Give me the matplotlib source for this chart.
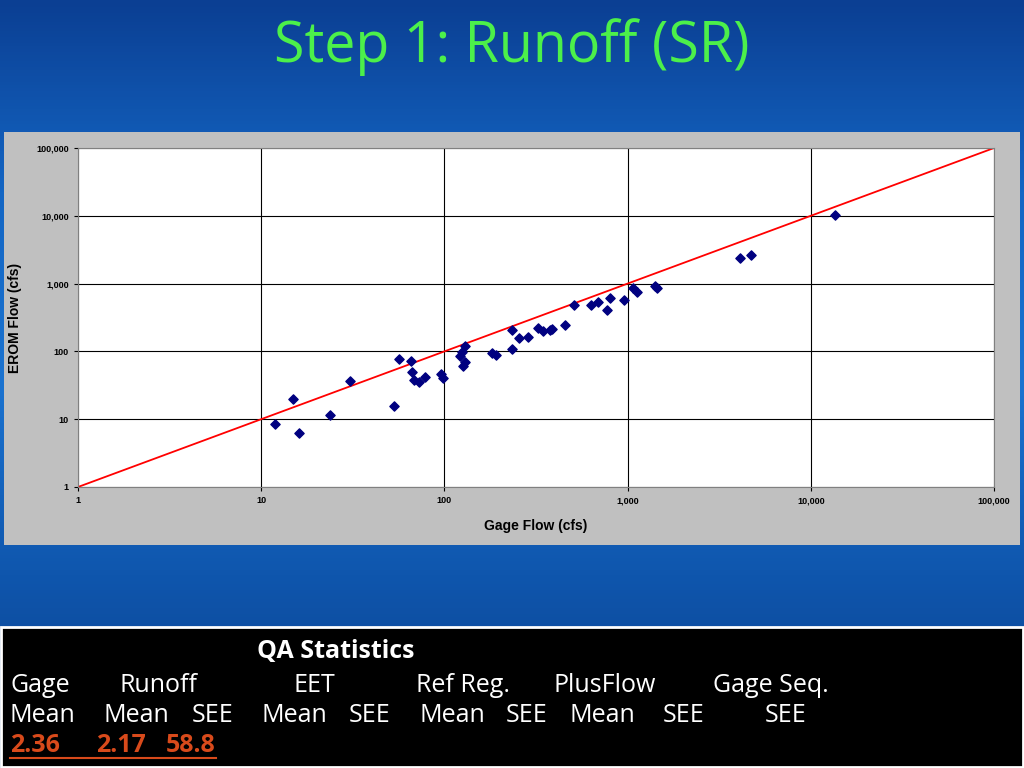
import matplotlib

matplotlib.use("Agg")
import matplotlib.pyplot as plt
import numpy as np
from matplotlib.patches import Rectangle
from matplotlib.ticker import FixedLocator, FixedFormatter

gage = [11.9, 14.9, 16.1, 23.8, 30.5, 53, 56.5, 65.8, 66.5, 68, 72.6, 78,
        95.8, 97.7, 121.6, 125, 129, 127, 129, 182, 191, 234, 234, 255, 286,
        324, 345, 377, 387, 455, 510, 631, 689, 772, 802, 955, 1072, 1125,
        1413, 1450, 4110, 4720, 13550]
erom = [8.5, 19.9, 6.3, 11.5, 36.6, 15.7, 77, 72, 49.7, 37.9, 35.4, 41.9,
        46.4, 40.5, 85.5, 98, 120, 61, 69.6, 94.5, 88, 207, 108, 158, 163,
        221, 200, 207, 214, 245, 483, 483, 535, 408, 614, 573, 861, 751,
        922, 861, 2390, 2640, 10280]
ticks = [1, 10, 100, 1000, 10000, 100000]
tick_labels = ["1", "10", "100", "1,000", "10,000", "100,000"]

W, H = 1024, 768
fig = plt.figure(figsize=(W / 100, H / 100), dpi=100)
SANS = "Open Sans"
CHART = "Liberation Sans"
ORANGE = "#d84a1b"

# blue gradient background
bg = fig.add_axes([0, 0, 1, 1])
grad = np.linspace(0, 1, 256)[:, None]
cmap = matplotlib.colors.LinearSegmentedColormap.from_list(
    "bg", ["#0b3f93", "#1466c4", "#1b73d0", "#0f56ad", "#0a3f8c"])
bg.imshow(grad, aspect="auto", cmap=cmap, extent=[0, 1, 0, 1])
bg.set_xlim(0, 1)
bg.set_ylim(0, 1)
bg.axis("off")

fig.text(0.5, 1 - 47 / H, "Step 1: Runoff (SR)", ha="center", va="center",
         color="#4cf04a", fontsize=40, family=SANS)

# gray chart panel
bg.add_patch(Rectangle((4 / W, 1 - 545 / H), 1016 / W, 413 / H,
                       facecolor="#c0c0c0", edgecolor="none"))

ax = fig.add_axes([78 / W, 1 - 487 / H, 916 / W, 339 / H])
ax.set_xscale("log")
ax.set_yscale("log")
ax.set_xlim(1, 100000)
ax.set_ylim(1, 100000)
ax.set_facecolor("white")
for a in (ax.xaxis, ax.yaxis):
    a.set_major_locator(FixedLocator(ticks))
    a.set_major_formatter(FixedFormatter(tick_labels))
    a.set_minor_locator(FixedLocator([]))
ax.grid(True, color="black", lw=0.8)
ax.tick_params(labelsize=6.5, length=3, width=0.8)
for lab in ax.get_xticklabels() + ax.get_yticklabels():
    lab.set_fontweight("bold")
    lab.set_family(CHART)
for s in ax.spines.values():
    s.set_color("#808080")
ax.plot([1, 100000], [1, 100000], color="#ff0000", lw=1.3)
ax.scatter(gage, erom, marker="D", s=22, color="#000080", zorder=3)
ax.set_xlabel("Gage Flow (cfs)", fontsize=10, fontweight="bold", family=CHART,
              labelpad=10)
ax.set_ylabel("EROM Flow (cfs)", fontsize=10, fontweight="bold", family=CHART,
              labelpad=10)

# stats box
bg.add_patch(Rectangle((1 / W, 1 / H), 1022 / W, 140 / H,
                       facecolor="black", edgecolor="white", lw=2))
fs = 18
fig.text(257 / W, 1 - 652 / H, "QA Statistics", color="white", fontsize=fs,
         fontweight="bold", va="center", family=SANS)
row1 = [("Gage", 10), ("Runoff", 120), ("EET", 293), ("Ref Reg.", 416),
        ("PlusFlow", 554), ("Gage Seq.", 713)]
row2 = [("Mean", 10), ("Mean", 104), ("SEE", 192), ("Mean", 262), ("SEE", 349),
        ("Mean", 419), ("SEE", 506), ("Mean", 569), ("SEE", 663), ("SEE", 765)]
for t, x in row1:
    fig.text(x / W, 1 - 685 / H, t, color="white", fontsize=fs, va="center",
             family=SANS)
for t, x in row2:
    fig.text(x / W, 1 - 716 / H, t, color="white", fontsize=fs, va="center",
             family=SANS)
for t, x in [("2.36", 10), ("2.17", 96), ("58.8", 166)]:
    fig.text(x / W, 1 - 746 / H, t, color=ORANGE, fontsize=fs,
             fontweight="bold", va="center", family=SANS)
bg.plot([10 / W, 216 / W], [1 - 758 / H] * 2, color=ORANGE, lw=1.5)

fig.savefig("out.png", dpi=100)
